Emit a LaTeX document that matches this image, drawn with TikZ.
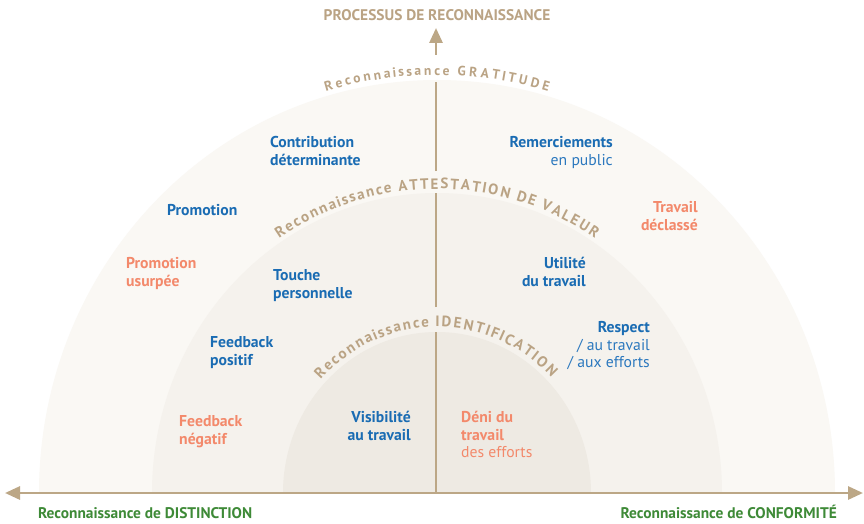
\documentclass[tikz,border=0pt]{standalone}
\usepackage{fontspec}
\setmainfont{PT Sans}
\usetikzlibrary{arrows.meta,decorations.text,calc}
\definecolor{outerF}{HTML}{FAF8F4}
\definecolor{midF}{HTML}{F5F2ED}
\definecolor{innerF}{HTML}{EEEAE3}
\definecolor{tanL}{HTML}{BCA786}
\definecolor{tanT}{HTML}{BAA384}
\definecolor{blueT}{HTML}{1A6CB3}
\definecolor{blueR}{HTML}{2B78BE}
\definecolor{salT}{HTML}{F3896B}
\definecolor{greenT}{HTML}{3E8A37}
\newcommand\lnstrut{\rule{0pt}{14pt}}
\begin{document}
\begin{tikzpicture}[x=1pt,y=-1pt,
  lbl/.style={inner sep=0pt, font=\fontsize{15.7}{17.8}\selectfont\bfseries},
  lw/.style={lbl, anchor=north west, align=left},
  le/.style={lbl, anchor=north east, align=right},
  bl/.style={text=blueT},
  sal/.style={text=salT},
  axisline/.style={draw=tanL, line width=2.8pt},
  tipend/.style={-{Triangle[length=15pt,width=13pt]}},
  arcchar/.style={inner sep=0pt, text=tanT, font=\fontsize{15}{15}\selectfont\bfseries},
  arccharsmall/.style={inner sep=0pt, text=tanT, font=\fontsize{13.5}{13.5}\selectfont\bfseries},
  headline/.style={inner sep=0pt, font=\fontsize{15.4}{15.4}\selectfont\bfseries}]
\useasboundingbox[fill=white] (0,0) rectangle (864,524);
\coordinate (c) at (437,493);
% half discs
\fill[outerF] (39,493) arc[start angle=180, end angle=360, x radius=398, y radius=413] -- cycle;
\fill[midF] (152,493) arc[start angle=180, end angle=360, x radius=285, y radius=300] -- cycle;
\fill[innerF] (283,493) arc[start angle=180, end angle=360, x radius=154, y radius=161] -- cycle;
% axes
\coordinate (hl) at (5,493);
\coordinate (hr) at (863,493);
\coordinate (v0) at (436,493);
\coordinate (v1) at (436,332);
\coordinate (v2) at (436,307);
\coordinate (v3) at (436,193);
\coordinate (v4) at (436,171);
\coordinate (v5) at (436,82);
\coordinate (v6) at (436,55);
\coordinate (vt) at (436,28);
\draw[axisline, {Triangle[length=15pt,width=13pt]}-{Triangle[length=15pt,width=13pt]}] (hl) -- (hr);
\draw[axisline] (v0) -- (v1) (v2) -- (v3) (v4) -- (v5);
\draw[axisline, tipend] (v6) -- (vt);
% arc texts
\path[decorate, decoration={text effects along path, text={Reconnaissance GRATITUDE},
  text effects/.cd, text along path, fit text to path, every character/.style={arccharsmall}}]
  ($(c)+(-106:403 and 418)$) arc[start angle=-106, end angle=-74, x radius=403, y radius=418];
\path[decorate, decoration={text effects along path, text={Reconnaissance ATTESTATION DE VALEUR},
  text effects/.cd, text along path, fit text to path, every character/.style={arcchar}}]
  ($(c)+(-123:290 and 304)$) arc[start angle=-123, end angle=-57, x radius=290, y radius=304];
\path[decorate, decoration={text effects along path, text={Reconnaissance IDENTIFICATION},
  text effects/.cd, text along path, fit text to path, every character/.style={arcchar}}]
  ($(c)+(-137:159 and 166)$) arc[start angle=-137, end angle=-44, x radius=159, y radius=166];
% titles
\node[headline, anchor=base, text=tanT] (title) at (437,21) {PROCESSUS DE RECONNAISSANCE};
\node[headline, anchor=base west, text=greenT] (dist) at (38,518) {Reconnaissance de DISTINCTION};
\node[headline, anchor=base east, text=greenT] (conf) at (837,518) {Reconnaissance de CONFORMITÉ};
% left labels
\node[lw, bl] (contrib) at (270,133) {\lnstrut Contribution\\déterminante};
\node[lw, bl] (promo) at (167,201) {\lnstrut Promotion};
\node[lw, sal] (promous) at (126,254) {\lnstrut Promotion\\usurpée};
\node[lw, bl] (touche) at (273,266) {\lnstrut Touche\\personnelle};
\node[lw, bl] (fbpos) at (210,333) {\lnstrut Feedback\\positif};
\node[lw, sal] (fbneg) at (179,412) {\lnstrut Feedback\\négatif};
\node[le, bl] (visib) at (411,408) {\lnstrut Visibilité\\au travail};
% right labels
\node[lw, sal] (deni) at (461,408) {\lnstrut Déni du\\travail\\{\mdseries des efforts}};
\node[le, bl] (remerc) at (613,133) {\lnstrut Remerciements\\{\mdseries\color{blueR}en public}};
\node[le, sal] (declasse) at (698,198) {\lnstrut Travail\\déclassé};
\node[le, bl] (utilite) at (586,254) {\lnstrut Utilité\\du travail};
\node[le, bl] (respect) at (650,318) {\lnstrut Respect\\{\mdseries\color{blueR}/ au travail}\\{\mdseries\color{blueR}/ aux efforts}};
\end{tikzpicture}
\end{document}
